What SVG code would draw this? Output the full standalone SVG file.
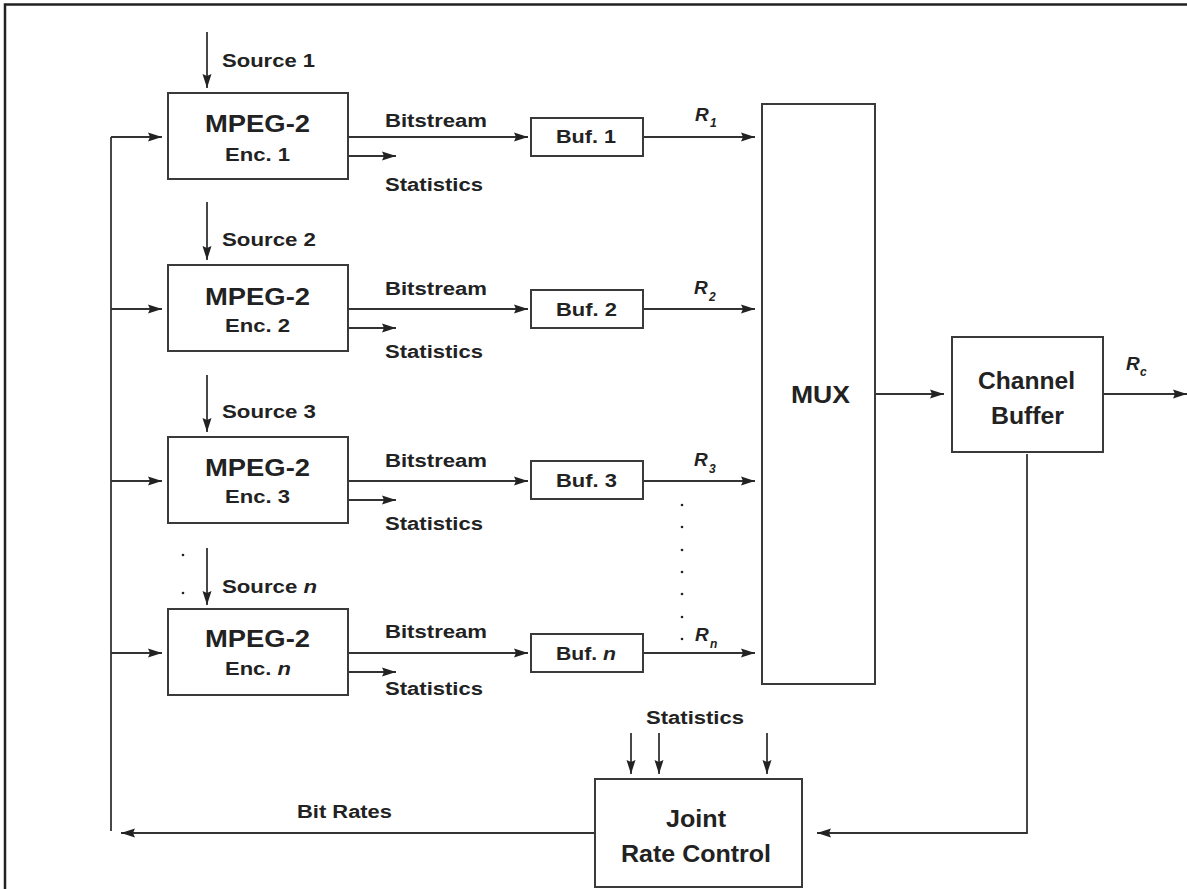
<svg xmlns="http://www.w3.org/2000/svg" width="1187" height="889" viewBox="0 0 1187 889">
<style>
.bx{fill:#fff;stroke:#3a3a3a;stroke-width:2}
.ln{fill:none;stroke:#333;stroke-width:1.8}
.ar{marker-end:url(#ah)}
text{font-family:"Liberation Sans",Arial,sans-serif;font-weight:bold;fill:#222}
.s{font-size:18px}
.b{font-size:24px}
.r{font-size:19px;font-style:italic}
.sub{font-size:12px;font-style:italic}
.dot{fill:#222}
</style>
<defs>
<marker id="ah" markerWidth="14" markerHeight="10" refX="14" refY="5" orient="auto" markerUnits="userSpaceOnUse">
<path d="M0,0.5 L14,5 L0,9.5 L2,5 z" fill="#222"/>
</marker>
</defs>
<rect width="1187" height="889" fill="#fff"/>
<path d="M5,889 V4.5 H1187" fill="none" stroke="#222" stroke-width="2.5"/>

<g id="connectors">
<path class="ln ar" d="M207,32 V88"/>
<path class="ln ar" d="M207,202 V260"/>
<path class="ln ar" d="M207,375 V432"/>
<path class="ln ar" d="M207,548 V605"/>
<path class="ln" d="M111,137 V831"/>
<path class="ln ar" d="M111,137 H162"/>
<path class="ln ar" d="M111,309 H162"/>
<path class="ln ar" d="M111,481 H162"/>
<path class="ln ar" d="M111,653 H162"/>
<path class="ln ar" d="M348,137 H528"/>
<path class="ln ar" d="M348,309 H528"/>
<path class="ln ar" d="M348,481 H528"/>
<path class="ln ar" d="M348,653 H528"/>
<path class="ln ar" d="M348,156 H396"/>
<path class="ln ar" d="M348,328 H396"/>
<path class="ln ar" d="M348,500 H396"/>
<path class="ln ar" d="M348,672 H396"/>
<path class="ln ar" d="M643,137 H755"/>
<path class="ln ar" d="M643,309 H755"/>
<path class="ln ar" d="M643,481 H755"/>
<path class="ln ar" d="M643,653 H755"/>
<path class="ln ar" d="M876,394 H944"/>
<path class="ln ar" d="M1103,394 H1187"/>
<path class="ln ar" d="M1027,454 V833 H817"/>
<path class="ln ar" d="M631,733 V774"/>
<path class="ln ar" d="M659,733 V774"/>
<path class="ln ar" d="M767,733 V774"/>
<path class="ln ar" d="M595,833 H121"/>
</g>

<g id="labels">
<text class="s" x="222" y="67" textLength="93" lengthAdjust="spacingAndGlyphs">Source 1</text>
<text class="s" x="222" y="246" textLength="94" lengthAdjust="spacingAndGlyphs">Source 2</text>
<text class="s" x="222" y="418" textLength="94" lengthAdjust="spacingAndGlyphs">Source 3</text>
<text class="s" x="222" y="593" textLength="95" lengthAdjust="spacingAndGlyphs">Source <tspan font-style="italic">n</tspan></text>
<text class="s" x="385" y="127" textLength="102" lengthAdjust="spacingAndGlyphs">Bitstream</text>
<text class="s" x="385" y="295" textLength="102" lengthAdjust="spacingAndGlyphs">Bitstream</text>
<text class="s" x="385" y="467" textLength="102" lengthAdjust="spacingAndGlyphs">Bitstream</text>
<text class="s" x="385" y="638" textLength="102" lengthAdjust="spacingAndGlyphs">Bitstream</text>
<text class="s" x="385" y="191" textLength="98" lengthAdjust="spacingAndGlyphs">Statistics</text>
<text class="s" x="385" y="358" textLength="98" lengthAdjust="spacingAndGlyphs">Statistics</text>
<text class="s" x="385" y="530" textLength="98" lengthAdjust="spacingAndGlyphs">Statistics</text>
<text class="s" x="385" y="695" textLength="98" lengthAdjust="spacingAndGlyphs">Statistics</text>
<text class="r" x="695" y="121">R</text><text class="sub" x="710" y="127">1</text>
<text class="r" x="694" y="294">R</text><text class="sub" x="709" y="301">2</text>
<text class="r" x="694" y="466">R</text><text class="sub" x="709" y="473">3</text>
<text class="r" x="695" y="641">R</text><text class="sub" x="710" y="648">n</text>
<text class="r" x="1126" y="370">R</text><text class="sub" x="1140" y="376">c</text>
<text class="s" x="646" y="724" textLength="98" lengthAdjust="spacingAndGlyphs">Statistics</text>
<text class="s" x="297" y="818" textLength="95" lengthAdjust="spacingAndGlyphs">Bit Rates</text>
<circle class="dot" cx="183" cy="555" r="1.3"/>
<circle class="dot" cx="183" cy="593" r="1.3"/>
<circle class="dot" cx="682" cy="505" r="1.3"/>
<circle class="dot" cx="682" cy="527" r="1.3"/>
<circle class="dot" cx="682" cy="550" r="1.3"/>
<circle class="dot" cx="682" cy="572" r="1.3"/>
<circle class="dot" cx="682" cy="594" r="1.3"/>
<circle class="dot" cx="682" cy="617" r="1.3"/>
<circle class="dot" cx="682" cy="639" r="1.3"/>
</g>

<g id="enc1">
<rect class="bx" x="168" y="93" width="180" height="86"/>
<text class="b" x="205" y="132" textLength="105" lengthAdjust="spacingAndGlyphs">MPEG-2</text>
<text class="s" x="225" y="161" textLength="65" lengthAdjust="spacingAndGlyphs">Enc. 1</text>
</g>
<g id="enc2">
<rect class="bx" x="168" y="265" width="180" height="86"/>
<text class="b" x="205" y="305" textLength="105" lengthAdjust="spacingAndGlyphs">MPEG-2</text>
<text class="s" x="225" y="332" textLength="65" lengthAdjust="spacingAndGlyphs">Enc. 2</text>
</g>
<g id="enc3">
<rect class="bx" x="168" y="437" width="180" height="86"/>
<text class="b" x="205" y="476" textLength="105" lengthAdjust="spacingAndGlyphs">MPEG-2</text>
<text class="s" x="225" y="503" textLength="65" lengthAdjust="spacingAndGlyphs">Enc. 3</text>
</g>
<g id="encn">
<rect class="bx" x="168" y="609" width="180" height="86"/>
<text class="b" x="205" y="647" textLength="105" lengthAdjust="spacingAndGlyphs">MPEG-2</text>
<text class="s" x="225" y="675" textLength="66" lengthAdjust="spacingAndGlyphs">Enc. <tspan font-style="italic">n</tspan></text>
</g>
<g id="buf1">
<rect class="bx" x="531" y="118" width="112" height="38"/>
<text class="s" x="556" y="143" textLength="60" lengthAdjust="spacingAndGlyphs">Buf. 1</text>
</g>
<g id="buf2">
<rect class="bx" x="531" y="290" width="112" height="38"/>
<text class="s" x="556" y="316" textLength="61" lengthAdjust="spacingAndGlyphs">Buf. 2</text>
</g>
<g id="buf3">
<rect class="bx" x="531" y="461" width="112" height="38"/>
<text class="s" x="556" y="487" textLength="61" lengthAdjust="spacingAndGlyphs">Buf. 3</text>
</g>
<g id="bufn">
<rect class="bx" x="531" y="634" width="112" height="38"/>
<text class="s" x="556" y="660" textLength="60" lengthAdjust="spacingAndGlyphs">Buf. <tspan font-style="italic">n</tspan></text>
</g>
<g id="mux">
<rect class="bx" x="762" y="104" width="113" height="580"/>
<text class="b" x="791" y="403" textLength="59" lengthAdjust="spacingAndGlyphs">MUX</text>
</g>
<g id="chanbuf">
<rect class="bx" x="952" y="337" width="151" height="115"/>
<text class="b" x="978" y="389" textLength="97" lengthAdjust="spacingAndGlyphs">Channel</text>
<text class="b" x="991" y="424" textLength="73" lengthAdjust="spacingAndGlyphs">Buffer</text>
</g>
<g id="jrc">
<rect class="bx" x="595" y="779" width="207" height="108"/>
<text class="b" x="666" y="827" textLength="60" lengthAdjust="spacingAndGlyphs">Joint</text>
<text class="b" x="621" y="862" textLength="150" lengthAdjust="spacingAndGlyphs">Rate Control</text>
</g>
</svg>
